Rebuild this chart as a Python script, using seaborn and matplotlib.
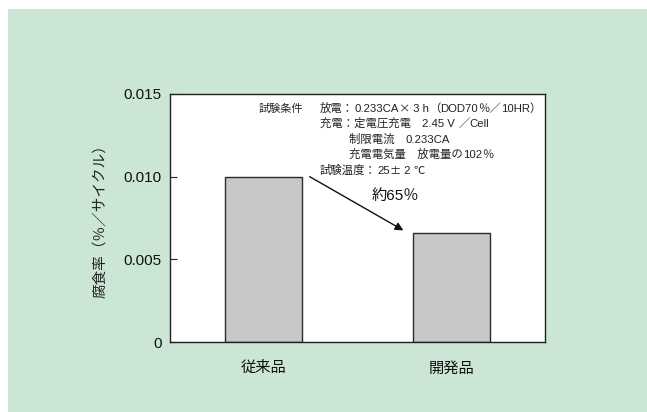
import matplotlib
matplotlib.use("Agg")
import matplotlib.pyplot as plt
import seaborn as sns
import pandas as pd
from matplotlib.patches import Rectangle

# Data
products = ["従来品", "開発品"]
corrosion_rate = [0.010, 0.0066]
y_ticks = [0, 0.005, 0.010, 0.015]
y_tick_labels = ["0", "0.005", "0.010", "0.015"]
reduction_label = "約65％"

condition_head = "試験条件"
condition_lines = [
    (0.30, "放電：0.233CA× 3 h（DOD70％／10HR）"),
    (0.30, "充電：定電圧充電　2.45 V ／Cell"),
    (0.455, "制限電流　0.233CA"),
    (0.455, "充電電気量　放電量の102％"),
    (0.30, "試験温度：25± 2 ℃"),
]

LATIN = ["Liberation Sans", "DejaVu Sans"]
CJK = ["Noto Sans CJK JP", "DejaVu Sans"]

sns.set_theme(style="white")
plt.rcParams["font.family"] = ["Liberation Sans", "Noto Sans CJK JP", "DejaVu Sans"]

df = pd.DataFrame({"product": products, "rate": corrosion_rate})


def runs(s):
    """Split a string into runs of ASCII and non-ASCII characters."""
    out = []
    for ch in s:
        kind = ord(ch) < 128
        if out and out[-1][1] == kind:
            out[-1][0] += ch
        else:
            out.append([ch, kind])
    return out


def mixed_text(ax, x, y, s, size, color="#222222"):
    """Draw Latin runs in a Helvetica-like face and the rest in a Gothic face."""
    prev = None
    for run, is_ascii in runs(s):
        fam = LATIN if is_ascii else CJK
        if prev is None:
            prev = ax.text(x, y, run, family=fam, fontsize=size, color=color,
                           ha="left", va="baseline")
        else:
            prev = ax.annotate(run, xy=(1, y), xycoords=(prev, "data"),
                               family=fam, fontsize=size, color=color,
                               ha="left", va="baseline")
    return prev


fig = plt.figure(figsize=(6.47, 4.12), dpi=100, facecolor="white")
bg = "#cce6d6"
panel = Rectangle((8 / 647, 0), 1, 1 - 9 / 412, transform=fig.transFigure,
                  facecolor=bg, edgecolor="none", zorder=-10)
fig.add_artist(panel)

ax = fig.add_axes([170 / 647, 1 - 342 / 412, 375 / 647, 248 / 412])
ax.set_zorder(5)
ax.set_facecolor("white")

sns.barplot(data=df, x="product", y="rate", ax=ax, color="#c8c8c8",
            width=0.41, edgecolor="#2a2a2a", linewidth=1.0, saturation=1)

ax.set_xlim(-0.5, 1.5)
ax.set_ylim(0, 0.015)
ax.set_yticks(y_ticks)
ax.set_yticklabels(y_tick_labels, fontsize=11, color="#111111")
ax.tick_params(axis="y", direction="in", length=5, width=0.8, left=True,
               color="#222222", pad=6)
ax.tick_params(axis="x", length=0, labelsize=11, pad=14, labelcolor="#111111")
ax.set_xlabel("")
ax.set_ylabel("腐食率（％／サイクル）", fontsize=10.5, color="#222222", labelpad=12)
for s in ax.spines.values():
    s.set_color("#222222")
    s.set_linewidth(1.0)

# Test conditions (baseline positions)
y0 = 0.01393
step = 0.00094
ax.text(-0.03, y0, condition_head, family=CJK, fontsize=8, color="#222222",
        va="baseline", ha="left")
for i, (x, line) in enumerate(condition_lines):
    mixed_text(ax, x, y0 - i * step, line, 8.2)

# Reduction arrow
ax.annotate("", xy=(0.745, 0.00675), xytext=(0.245, 0.0100),
            arrowprops=dict(arrowstyle="-|>", color="#111111", lw=1.0,
                            mutation_scale=12, shrinkA=0, shrinkB=0))
ax.text(0.70, 0.00885, reduction_label, fontsize=11, color="#111111",
        ha="center", va="center")

fig.savefig("out.png", dpi=100, facecolor=fig.get_facecolor())
